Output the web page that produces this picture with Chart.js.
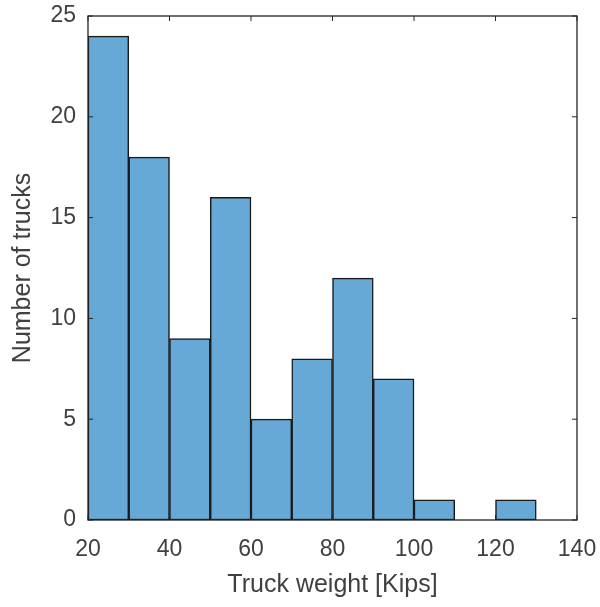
<!DOCTYPE html>
<html>
<head>
<meta charset="utf-8">
<script src="https://cdn.jsdelivr.net/npm/chart.js@4.4.0/dist/chart.umd.min.js"></script>
<style>
  html, body { margin: 0; padding: 0; background: #ffffff; }
  #wrap { width: 600px; height: 607px; }
</style>
</head>
<body>
<div id="wrap"><canvas id="hist" width="600" height="607"></canvas></div>
<script>
// histogram bins (Kips), bin width 10
const binCenters = [25, 35, 45, 55, 65, 75, 85, 95, 105, 115, 125, 135];
const truckCounts = [24, 18, 9, 16, 5, 8, 12, 7, 1, 0, 1, 0];
const xTicks = [20, 40, 60, 80, 100, 120, 140];
const yTicks = [0, 5, 10, 15, 20, 25];

const textColor = '#404040';
const fontFamily = '"Liberation Sans", Arial, Helvetica, sans-serif';

// box around the axes plus small inward ticks, matlab style
const boxPlugin = {
    id: 'boxPlugin',
    afterDatasetsDraw(chart) {
        const { ctx, chartArea: a, scales } = chart;
        ctx.save();
        ctx.strokeStyle = '#262626';
        ctx.lineWidth = 1.3;
        ctx.strokeRect(a.left, a.top, a.right - a.left, a.bottom - a.top);
        ctx.lineWidth = 1;
        ctx.beginPath();
        xTicks.forEach(v => {
            const px = scales.x.getPixelForValue(v);
            ctx.moveTo(px, a.bottom); ctx.lineTo(px, a.bottom - 5);
            ctx.moveTo(px, a.top); ctx.lineTo(px, a.top + 5);
        });
        yTicks.forEach(v => {
            const py = scales.y.getPixelForValue(v);
            ctx.moveTo(a.left, py); ctx.lineTo(a.left + 5, py);
            ctx.moveTo(a.right, py); ctx.lineTo(a.right - 5, py);
        });
        ctx.stroke();
        ctx.restore();
    }
};

new Chart(document.getElementById('hist').getContext('2d'), {
    type: 'bar',
    data: {
        datasets: [{
            data: binCenters.map((x, i) => ({ x: x, y: truckCounts[i] })),
            backgroundColor: '#66a9d6',
            borderColor: '#1a1a1a',
            borderWidth: 1.5,
            borderSkipped: false,
            barPercentage: 1,
            categoryPercentage: 1
        }]
    },
    options: {
        responsive: false,
        animation: false,
        layout: { padding: { left: 0, right: 23, top: 16, bottom: 0 } },
        plugins: { legend: { display: false }, tooltip: { enabled: false } },
        scales: {
            x: {
                type: 'linear',
                min: 20,
                max: 140,
                offset: false,
                afterBuildTicks: s => { s.ticks = xTicks.map(v => ({ value: v })); },
                afterFit: s => { s.height = 87; s.paddingLeft = 0; s.paddingRight = 0; },
                grid: { display: false, drawTicks: false },
                border: { display: false },
                ticks: { color: textColor, padding: 16, font: { family: fontFamily, size: 23 }, maxRotation: 0 },
                title: { display: true, text: 'Truck weight [Kips]', color: textColor, padding: { top: 4, bottom: 7 }, font: { family: fontFamily, size: 25 } }
            },
            y: {
                min: 0,
                max: 25,
                afterBuildTicks: s => { s.ticks = yTicks.map(v => ({ value: v })); },
                afterFit: s => { s.width = 88; s.paddingTop = 0; s.paddingBottom = 0; },
                grid: { display: false, drawTicks: false },
                border: { display: false },
                ticks: { color: textColor, padding: 12, font: { family: fontFamily, size: 23 } },
                title: { display: true, text: 'Number of trucks', color: textColor, padding: { top: 8, bottom: 0 }, font: { family: fontFamily, size: 25 } }
            }
        }
    },
    plugins: [boxPlugin]
});
</script>
</body>
</html>
